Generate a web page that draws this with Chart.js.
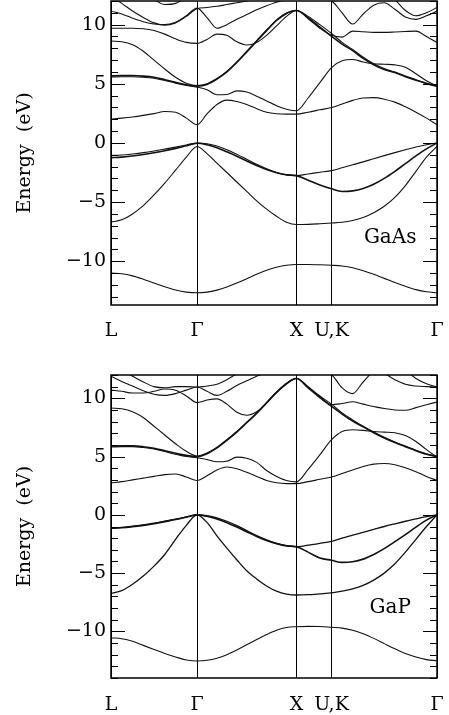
<!DOCTYPE html>
<html>
<head>
<meta charset="utf-8">
<script src="https://cdn.jsdelivr.net/npm/chart.js@4.4.1/dist/chart.umd.min.js"></script>
<style>
  body { margin: 0; background: #fff; width: 449px; height: 715px; overflow: hidden; }
  .panel { position: absolute; left: 0; width: 449px; }
</style>
</head>
<body>
<div class="panel" style="top:0;height:345px"><canvas id="gaas" width="449" height="345"></canvas></div>
<div class="panel" style="top:360px;height:355px"><canvas id="gap" width="449" height="355"></canvas></div>
<script>
// k along L - Gamma - X - U,K - Gamma (units of 2pi/a)
var kPath = [0, 0.108, 0.217, 0.325, 0.433, 0.541, 0.650, 0.758, 0.866,
             0.966, 1.066, 1.166, 1.266, 1.366, 1.466, 1.566, 1.666, 1.766, 1.866,
             1.984, 2.102, 2.220,
             2.326, 2.432, 2.538, 2.644, 2.750, 2.857, 2.963, 3.069, 3.175, 3.281];
var kSym = [0, 0.866, 1.866, 2.220, 3.281];
var kLabels = ['L', 'Γ', 'X', 'U,K', 'Γ'];
var energyTicks = [-10, -5, 0, 5, 10];

// GaAs bands (eV)
var gaasBands = [
  [-11.0, -11.06, -11.24, -11.52, -11.84, -12.15, -12.43, -12.61, -12.67, -12.61, -12.44, -12.18, -11.85, -11.48, -11.10, -10.77, -10.51, -10.34, -10.28, -10.28, -10.30, -10.34, -10.40, -10.55, -10.80, -11.10, -11.45, -11.80, -12.12, -12.40, -12.58, -12.67],
  [-6.7, -6.5, -6.0, -5.3, -4.4, -3.4, -2.3, -1.2, -0.3, -0.9, -1.7, -2.5, -3.3, -4.1, -4.9, -5.6, -6.2, -6.7, -6.9, -6.88, -6.83, -6.77, -6.7, -6.55, -6.3, -5.9, -5.35, -4.6, -3.6, -2.4, -1.2, -0.3],
  [-1.07, -1.02, -0.93, -0.82, -0.68, -0.52, -0.35, -0.17, 0, -0.07, -0.26, -0.57, -0.95, -1.38, -1.81, -2.19, -2.5, -2.69, -2.76, -2.62, -2.48, -2.34, -2.1, -1.85, -1.6, -1.33, -1.07, -0.82, -0.58, -0.35, -0.15, 0],
  [-1.25, -1.2, -1.1, -0.98, -0.83, -0.66, -0.46, -0.24, -0.02, -0.15, -0.4, -0.75, -1.12, -1.52, -1.9, -2.25, -2.52, -2.7, -2.76, -3.15, -3.55, -3.88, -4.1, -4.05, -3.85, -3.5, -3.0, -2.4, -1.75, -1.1, -0.5, 0],
  [2.02, 2.1, 2.2, 2.33, 2.48, 2.66, 2.6, 2.1, 1.54, 2.45, 3.25, 3.62, 3.5, 3.25, 2.9, 2.6, 2.47, 2.44, 2.44, 2.6, 2.8, 3.0, 3.3, 3.6, 3.8, 3.83, 3.7, 3.45, 3.05, 2.6, 2.1, 1.54],
  [5.58, 5.6, 5.6, 5.56, 5.47, 5.28, 5.06, 4.87, 4.72, 4.5, 4.08, 4.1, 4.4, 4.3, 3.95, 3.55, 3.15, 2.85, 2.72, 3.8, 5.1, 6.37, 6.95, 7.05, 6.85, 6.7, 6.65, 6.6, 6.4, 5.85, 5.25, 4.8],
  [5.67, 5.7, 5.7, 5.65, 5.55, 5.35, 5.12, 4.92, 4.8, 4.95, 5.4, 6.0, 6.8, 7.7, 8.6, 9.5, 10.35, 10.95, 11.2, 10.6, 9.8, 9.0, 8.35, 7.8, 7.15, 6.6, 6.2, 5.95, 5.6, 5.3, 5.05, 4.83],
  [8.62, 8.55, 8.3, 7.75, 7.0, 6.25, 5.55, 5.05, 4.85, 5.0, 5.45, 6.05, 6.85, 7.75, 8.65, 9.55, 10.4, 10.98, 11.22, 10.5, 9.7, 9.1, 8.95, 9.45, 9.4, 9.35, 9.35, 9.38, 9.42, 9.45, 9.0, 8.48],
  [9.7, 9.7, 9.7, 9.65, 9.5, 9.2, 8.8, 8.5, 8.42, 8.75, 9.2, 9.1, 8.55, 8.28, 8.5, 9.1, 9.9, 10.7, 11.2, 10.7, 10.0, 9.25, 8.5, 7.9, 7.25, 6.7, 6.3, 6.0, 5.65, 5.35, 5.0, 4.75],
  [11.14, 10.9, 10.55, 10.25, 10.05, 10.0, 10.2, 10.75, 11.4, 10.6, 9.7, 10.0, 10.45, 10.85, 11.25, 11.6, 11.9, 12.1, 12.2, 12.3, 12.2, 12.0, 11.0, 10.05, 10.9, 11.65, 11.85, 11.3, 10.65, 10.45, 10.75, 11.15],
  [12.4, 11.8, 11.15, 10.6, 10.15, 9.95, 10.15, 10.7, 11.35, 11.45, 11.55, 11.7, 11.85, 12.0, 12.2, 12.4, 12.6, 12.8, 12.9, 13.2, 13.4, 13.5, 13.5, 13.4, 13.2, 12.9, 12.6, 12.1, 11.2, 10.75, 11.0, 11.45],
  [13.5, 13.2, 12.8, 12.4, 12.1, 11.7, 11.8, 12.3, 12.8, 13.0, 13.2, 13.4, 13.5, 13.5, 13.5, 13.5, 13.5, 13.5, 13.5, 13.5, 13.5, 13.5, 13.5, 13.5, 13.5, 13.5, 13.5, 13.5, 13.5, 13.5, 13.5, 13.5]
];

// GaP bands (eV)
var gapBands = [
  [-10.54, -10.63, -10.85, -11.2, -11.55, -11.9, -12.2, -12.45, -12.54, -12.48, -12.3, -12.0, -11.6, -11.15, -10.7, -10.27, -9.9, -9.67, -9.6, -9.57, -9.58, -9.65, -9.72, -9.9, -10.2, -10.6, -11.05, -11.5, -11.9, -12.2, -12.42, -12.52],
  [-6.74, -6.5, -5.95, -5.25, -4.4, -3.4, -2.1, -0.9, 0, -0.65, -1.8, -2.85, -3.85, -4.8, -5.5, -6.1, -6.55, -6.8, -6.88, -6.85, -6.78, -6.7, -6.55, -6.35, -6.05, -5.6, -5.0, -4.2, -3.2, -2.1, -1.0, 0],
  [-1.11, -1.07, -0.98, -0.86, -0.72, -0.55, -0.37, -0.18, 0, -0.07, -0.25, -0.55, -0.92, -1.35, -1.78, -2.15, -2.45, -2.65, -2.74, -2.6, -2.45, -2.27, -2.0, -1.75, -1.5, -1.25, -1.0, -0.77, -0.55, -0.35, -0.15, 0],
  [-1.15, -1.11, -1.02, -0.9, -0.76, -0.58, -0.4, -0.2, 0, -0.12, -0.35, -0.68, -1.05, -1.45, -1.85, -2.2, -2.47, -2.66, -2.74, -3.2, -3.7, -3.9, -4.08, -4.02, -3.8, -3.4, -2.9, -2.3, -1.7, -1.05, -0.45, 0],
  [2.74, 2.85, 3.0, 3.15, 3.3, 3.45, 3.5, 3.25, 2.95, 3.35, 3.85, 4.1, 3.95, 3.65, 3.3, 2.95, 2.75, 2.68, 2.68, 2.85, 3.05, 3.25, 3.55, 3.85, 4.15, 4.35, 4.4, 4.3, 4.05, 3.7, 3.3, 2.95],
  [5.82, 5.85, 5.85, 5.78, 5.65, 5.43, 5.2, 5.0, 4.9, 4.75, 4.55, 4.6, 4.95, 4.85, 4.5, 3.8, 3.3, 2.95, 2.83, 3.9, 5.15, 6.45, 7.15, 7.3, 7.25, 7.15, 7.1, 7.05, 6.8, 6.3, 5.6, 4.95],
  [5.89, 5.92, 5.92, 5.85, 5.72, 5.5, 5.28, 5.1, 5.0, 5.25, 5.75, 6.4, 7.1, 7.9, 8.7, 9.6, 10.5, 11.25, 11.7, 10.9, 10.05, 9.3, 8.65, 8.05, 7.55, 7.05, 6.6, 6.2, 5.85, 5.5, 5.2, 5.0],
  [9.17, 9.1, 8.85, 8.35, 7.6, 6.85, 6.1, 5.45, 5.05, 5.3, 5.8, 6.45, 7.15, 7.95, 8.75, 9.65, 10.55, 11.3, 11.72, 10.95, 10.15, 9.45, 9.55, 9.7, 9.5, 9.3, 9.12, 9.0, 8.97, 9.2, 9.45, 9.69],
  [10.7, 10.6, 10.45, 10.45, 10.6, 10.8, 10.7, 10.2, 9.63, 9.85, 9.95, 9.5, 8.8, 8.55, 8.85, 9.6, 10.5, 11.25, 11.7, 11.0, 10.2, 9.5, 8.75, 8.15, 7.6, 7.1, 6.65, 6.25, 5.9, 5.55, 5.25, 5.0],
  [11.9, 11.45, 11.05, 10.65, 10.35, 10.25, 10.4, 10.7, 10.97, 10.6, 10.25, 10.6, 11.1, 11.5, 11.9, 12.2, 12.4, 12.5, 12.5, 12.4, 12.2, 12.0, 10.9, 10.4, 11.4, 12.2, 12.1, 11.6, 11.2, 11.05, 11.0, 10.97],
  [12.8, 12.4, 11.9, 11.4, 11.0, 10.9, 11.0, 11.0, 10.97, 11.05, 11.2, 11.6, 12.1, 12.6, 13.0, 13.0, 13.0, 13.0, 13.0, 13.0, 13.0, 13.0, 13.0, 13.0, 13.0, 13.0, 13.0, 12.9, 12.4, 11.7, 11.25, 10.97]
];

var gaasWidths = [1.1, 1.1, 1.1, 1.6, 1.1, 1.1, 1.6, 1.1, 1.1, 1.1, 1.1, 1.1];
var gapWidths = [1.1, 1.3, 1.3, 1.6, 1.1, 1.1, 1.6, 1.1, 1.1, 1.1, 1.1];

var serif = '"DejaVu Serif", "Liberation Serif", serif';

// inward ticks, frame and material label
var frame = {
  id: 'frame',
  afterDatasetsDraw: function(chart, args, opts) {
    var ctx = chart.ctx, a = chart.chartArea;
    var xs = chart.scales.x, ys = chart.scales.y;
    ctx.save();
    ctx.strokeStyle = '#000';
    ctx.lineWidth = 1;
    for (var v = Math.ceil(ys.min); v <= ys.max; v++) {
      var py = Math.round(ys.getPixelForValue(v)) + 0.5;
      var len = v % 5 === 0 ? 14 : 7;
      ctx.beginPath();
      ctx.moveTo(a.left, py); ctx.lineTo(a.left + len, py);
      ctx.moveTo(a.right - len, py); ctx.lineTo(a.right, py);
      ctx.stroke();
    }
    ctx.lineWidth = 1.5;
    ctx.strokeRect(a.left, a.top, a.right - a.left, a.bottom - a.top);
    ctx.fillStyle = '#000';
    ctx.font = '20px ' + serif;
    ctx.textAlign = 'center';
    ctx.textBaseline = 'middle';
    ctx.fillText(opts.name, xs.getPixelForValue(opts.at[0]), ys.getPixelForValue(opts.at[1]));
    ctx.restore();
  }
};

function makeChart(id, bands, widths, yMin, name, padTop, axisH, labelPad) {
  var datasets = bands.map(function(b, i) {
    return {
      data: kPath.map(function(k, j) { return { x: k, y: b[j] }; }),
      borderColor: '#111',
      borderWidth: widths[i],
      pointRadius: 0,
      fill: false,
      cubicInterpolationMode: 'monotone'
    };
  });
  return new Chart(id, {
    type: 'line',
    data: { datasets: datasets },
    plugins: [frame],
    options: {
      responsive: false,
      animation: false,
      events: [],
      layout: { padding: { top: padTop, right: 12, left: 0, bottom: 0 } },
      plugins: {
        legend: { display: false },
        tooltip: { enabled: false },
        frame: { name: name, at: [2.81, -8.0] }
      },
      scales: {
        x: {
          type: 'linear', min: 0, max: 3.281,
          afterBuildTicks: function(s) { s.ticks = kSym.map(function(v) { return { value: v }; }); },
          afterFit: function(s) { s.height = axisH; s.paddingLeft = 0; s.paddingRight = 0; },
          ticks: {
            autoSkip: false, maxRotation: 0, padding: labelPad, color: '#000',
            font: { family: serif, size: 19 },
            callback: function(v, i) { return kLabels[i]; }
          },
          grid: { color: '#000', lineWidth: 1, drawTicks: false },
          border: { display: false }
        },
        y: {
          min: yMin, max: 12,
          afterBuildTicks: function(s) { s.ticks = energyTicks.map(function(v) { return { value: v }; }); },
          afterFit: function(s) { s.width = 111; s.paddingTop = 0; s.paddingBottom = 0; },
          ticks: {
            padding: 5, color: '#000',
            font: { family: serif, size: 19 },
            callback: function(v) { return v < 0 ? '\u2212' + Math.abs(v) : String(v); }
          },
          grid: { display: false, drawTicks: false },
          border: { display: false },
          title: {
            display: true, text: 'Energy  (eV)', color: '#000',
            font: { family: serif, size: 19 },
            padding: { top: 14, bottom: 0 }
          }
        }
      }
    }
  });
}

makeChart('gaas', gaasBands, gaasWidths, -13.7, 'GaAs', 1, 40, 15);
makeChart('gap', gapBands, gapWidths, -14, 'GaP', 15, 37, 16);
</script>
</body>
</html>
